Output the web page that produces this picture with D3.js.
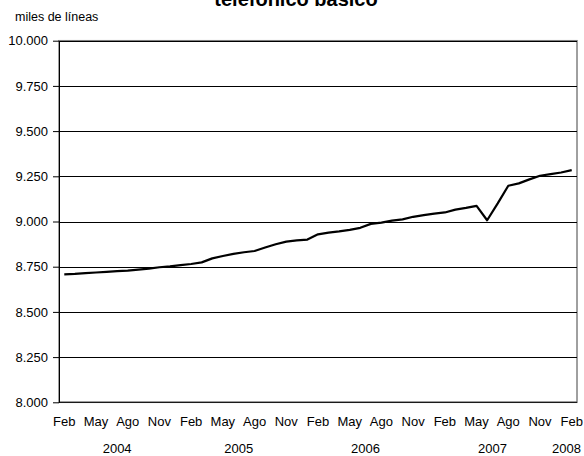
<!DOCTYPE html>
<html>
<head>
<meta charset="utf-8">
<script src="https://cdn.jsdelivr.net/npm/d3@7"></script>
<style>
  body { margin: 0; background: #fff; }
  svg  { display: block; font-family: 'Liberation Sans', Arial, sans-serif; }
</style>
</head>
<body>
<div id="chart"></div>
<script>
'use strict';

// categories: months Feb 2004 .. Feb 2008, grouped by year
const anios        = ['2004', '2005', '2006', '2007', '2008']
const primerMes    = [2, 1, 1, 1, 1]      // first month shown in each year
const ultimoMes    = [12, 12, 12, 12, 2]  // last month shown in each year
const mesCorto     = ['Ene', 'Feb', 'Mar', 'Abr', 'May', 'Jun', 'Jul', 'Ago', 'Sep', 'Oct', 'Nov', 'Dic']

// lineas en servicio (miles), one per month
const lineas = [
  8708, 8710, 8714, 8718, 8721, 8725, 8728, 8734, 8739, 8747, 8752,              // 2004
  8759, 8765, 8774, 8796, 8809, 8821, 8830, 8837, 8856, 8874, 8889, 8896,        // 2005
  8900, 8929, 8938, 8945, 8954, 8965, 8987, 8994, 9005, 9012, 9026, 9035,        // 2006
  9044, 9050, 9066, 9075, 9086, 9007, 9100, 9198, 9211, 9233, 9253, 9262,        // 2007
  9271, 9284                                                                     // 2008
]

const yTicks  = [8000, 8250, 8500, 8750, 9000, 9250, 9500, 9750, 10000]
const titulo  = 'telefónico básico'
const unidad  = 'miles de líneas'

const W = 584, H = 456
const plot = {left: 59, right: 577, top: 40.7, bottom: 402.3}

const categorias = []
anios.forEach((anio, ai) => {
  for (let m = primerMes[ai]; m <= ultimoMes[ai]; m++) {
    categorias.push({key: `${anio}-${m}`, anio: anio, mes: mesCorto[m-1]})
  }
})

const fmt = d3.formatLocale({decimal: ',', thousands: '.', grouping: [3], currency: ['', '']}).format(',.0f')

const x = d3.scalePoint()
  .domain(categorias.map((c) => c.key))
  .range([plot.left, plot.right])
  .padding(0.5)

const y = d3.scaleLinear()
  .domain([8000, 10000])
  .range([plot.bottom, plot.top])

const svg = d3.select('#chart')
  .append('svg')
  .attr('width', W)
  .attr('height', H)

svg.append('rect')
  .attr('width', W).attr('height', H)
  .attr('fill', '#fff')

// plot area border (grey, like the original)
svg.append('rect')
  .attr('x', plot.left)
  .attr('y', plot.top)
  .attr('width', plot.right - plot.left)
  .attr('height', plot.bottom - plot.top)
  .attr('fill', 'none')
  .attr('stroke', '#808080')
  .attr('stroke-width', 1.5)

// horizontal gridlines
svg.append('g')
  .selectAll('line')
  .data(yTicks.filter((t) => t > 8000))
  .enter()
  .append('line')
    .attr('x1', plot.left)
    .attr('x2', plot.right)
    .attr('y1', (t) => Math.round(y(t)) + 0.5)
    .attr('y2', (t) => Math.round(y(t)) + 0.5)
    .attr('stroke', '#000')
    .attr('stroke-width', 1)

// y axis
const yAxis = svg.append('g')
  .attr('transform', `translate(${plot.left},0)`)
  .call(d3.axisLeft(y)
    .tickValues(yTicks)
    .tickFormat(fmt)
    .tickSize(6)
    .tickSizeOuter(0)
    .tickPadding(5))

yAxis.selectAll('text')
  .attr('font-size', 13)
  .attr('font-family', "'Liberation Sans', Arial, sans-serif")
  .attr('fill', '#000')
yAxis.selectAll('line, path').attr('stroke', '#000')

// x axis baseline
svg.append('line')
  .attr('x1', plot.left).attr('x2', plot.right)
  .attr('y1', plot.bottom).attr('y2', plot.bottom)
  .attr('stroke', '#000')

// month labels, every third month
svg.append('g')
  .selectAll('text')
  .data(categorias.filter((c, i) => i % 3 == 0))
  .enter()
  .append('text')
    .attr('x', (c) => x(c.key))
    .attr('y', 426)
    .attr('text-anchor', 'middle')
    .attr('font-size', 13)
    .text((c) => c.mes)

// year labels, centred on their group of months
svg.append('g')
  .selectAll('text')
  .data(anios)
  .enter()
  .append('text')
    .attr('x', (anio) => {
      const keys = categorias.filter((c) => c.anio == anio).map((c) => x(c.key))
      return (d3.min(keys) + d3.max(keys)) / 2
    })
    .attr('y', 453)
    .attr('text-anchor', 'middle')
    .attr('font-size', 13)
    .text((anio) => anio)

// the series
const line = d3.line()
  .x((d, i) => x(categorias[i].key))
  .y((d) => y(d))

svg.append('path')
  .datum(lineas)
  .attr('d', line)
  .attr('fill', 'none')
  .attr('stroke', '#000')
  .attr('stroke-width', 2.2)
  .attr('stroke-linejoin', 'round')

// unit label and (clipped) title
svg.append('text')
  .attr('x', 15)
  .attr('y', 21)
  .attr('font-size', 12.5)
  .text(unidad)

svg.append('text')
  .attr('x', 296)
  .attr('y', 6)
  .attr('text-anchor', 'middle')
  .attr('font-size', 20)
  .attr('font-weight', 'bold')
  .text(titulo)
</script>
</body>
</html>
